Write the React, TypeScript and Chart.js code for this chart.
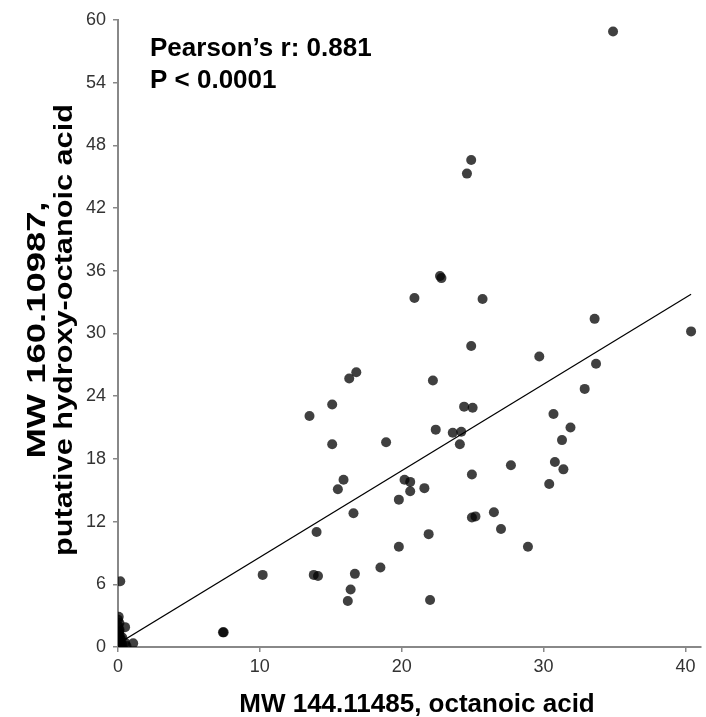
import React, { useEffect, useRef } from 'react';
import { Chart, registerables } from 'chart.js';
Chart.register(...registerables);

// MW 144.11485, octanoic acid (x) vs MW 160.10987, putative hydroxy-octanoic acid (y)
const octanoic = [
  34.9, 24.9, 24.6, 22.7, 22.8, 20.9, 25.7, 33.6, 40.4, 24.9,
  29.7, 33.7, 16.8, 16.3, 22.2, 32.9, 15.1, 24.4, 25.0, 30.7,
  13.5, 22.4, 31.9, 23.6, 24.2, 31.3, 15.1, 18.9, 24.1, 27.7,
  30.8, 31.4, 24.95, 15.9, 20.2, 20.6, 30.4, 15.5, 21.6, 20.6,
  19.8, 26.5, 16.6, 24.95, 25.2, 27.0, 14.0, 21.9, 19.8, 28.9,
  18.5, 10.2, 13.8, 14.1, 16.7, 16.4, 16.2, 22.0, 7.4, 7.45,
  0.16, 0.05, 0.1, 0.5, 1.07, 0.0, 0.05, 0.1, 0.15, 0.0,
  0.05, 0.1, 0.0, 0.05, 0.2, 0.3, 0.5, 0.2, 0.6, 0.0,
  0.1, 0.25, 0.0, 0.1, 0.3,
];
const hydroxy = [
  58.9, 46.6, 45.3, 35.5, 35.3, 33.4, 33.3, 31.4, 30.2, 28.8,
  27.8, 27.1, 26.3, 25.7, 25.5, 24.7, 23.2, 23.0, 22.9, 22.3,
  22.1, 20.8, 21.0, 20.5, 20.6, 19.8, 19.4, 19.6, 19.4, 17.4,
  17.7, 17.0, 16.5, 16.0, 16.0, 15.8, 15.6, 15.1, 15.2, 14.9,
  14.1, 12.9, 12.8, 12.4, 12.5, 11.3, 11.0, 10.8, 9.6, 9.6,
  7.6, 6.9, 6.9, 6.8, 7.0, 5.5, 4.4, 4.5, 1.4, 1.4,
  6.3, 2.9, 2.3, 1.9, 0.35, 0.0, 0.2, 0.5, 0.8, 1.1,
  1.4, 1.7, 2.0, 0.1, 0.3, 0.2, 0.4, 0.8, 0.1, 0.6,
  1.2, 0.0, 2.6, 1.5, 0.9,
];
const trendX = [0, 40.4];
const trendY = [0.31, 33.75];
const xTickValues = [0, 10, 20, 30, 40];
const yTickStep = 6;
const pearsonText = 'Pearson\u2019s r: 0.881';
const pValueText = 'P < 0.0001';
const xTitle = 'MW 144.11485, octanoic acid';
const yTitle = ['MW 160.10987,', 'putative hydroxy-octanoic acid'];

const FONT = '"Liberation Sans", Arial, sans-serif';

const textPlugin = {
  id: 'texts',
  afterDraw(chart: any) {
    const ctx = chart.ctx;
    ctx.save();
    ctx.fillStyle = '#000';
    ctx.font = `bold 26px ${FONT}`;
    ctx.textAlign = 'left';
    ctx.textBaseline = 'alphabetic';
    ctx.fillText(pearsonText, 150, 56);
    ctx.fillText(pValueText, 150, 88);

    ctx.textAlign = 'center';
    ctx.fillText(xTitle, 417, 712);

    ctx.translate(0, 330);
    ctx.rotate(-Math.PI / 2);
    ctx.save();
    ctx.scale(1.4, 1);
    ctx.fillText(yTitle[0], 0, 45);
    ctx.restore();
    ctx.scale(1.18, 1);
    ctx.fillText(yTitle[1], 0, 72);
    ctx.restore();
  },
};

export default function App() {
  const ref = useRef<HTMLCanvasElement>(null);
  useEffect(() => {
    document.body.style.margin = '0';
    const points = octanoic.map((x, i) => ({ x, y: hydroxy[i] }));
    const trend = trendX.map((x, i) => ({ x, y: trendY[i] }));
    const chart = new Chart(ref.current!, {
      type: 'scatter',
      data: {
        datasets: [
          {
            type: 'line',
            data: trend,
            borderColor: '#000',
            borderWidth: 1.2,
            pointRadius: 0,
            fill: false,
          } as any,
          {
            data: points,
            backgroundColor: 'rgba(0,0,0,0.75)',
            borderWidth: 0,
            pointRadius: 5,
          },
        ],
      },
      options: {
        animation: false,
        responsive: false,
        layout: { padding: { top: 20, right: 0, left: 0, bottom: 0 } },
        plugins: { legend: { display: false }, tooltip: { enabled: false } },
        scales: {
          x: {
            type: 'linear',
            min: 0,
            max: 41.1,
            afterBuildTicks: (s: any) => {
              s.ticks = xTickValues.map((v) => ({ value: v }));
            },
            afterFit: (s: any) => {
              s.height = 70;
            },
            ticks: { font: { size: 18, family: FONT }, color: '#333', padding: 4 },
            grid: { display: true, drawOnChartArea: false, drawTicks: true, tickLength: 5, color: '#888', lineWidth: 1.5 },
            border: { display: true, color: '#888', width: 2 },
          },
          y: {
            type: 'linear',
            min: 0,
            max: 60,
            afterFit: (s: any) => {
              s.width = 118;
            },
            ticks: { stepSize: yTickStep, font: { size: 18, family: FONT }, color: '#333', padding: 7 },
            grid: { display: true, drawOnChartArea: false, drawTicks: true, tickLength: 5, color: '#888', lineWidth: 1.5 },
            border: { display: true, color: '#888', width: 2 },
          },
        },
      },
      plugins: [textPlugin],
    });
    return () => chart.destroy();
  }, []);
  return (
    <canvas
      ref={ref}
      width={706}
      height={717}
      style={{ display: 'block', position: 'absolute', left: 0, top: 0, width: 706, height: 717 }}
    />
  );
}
